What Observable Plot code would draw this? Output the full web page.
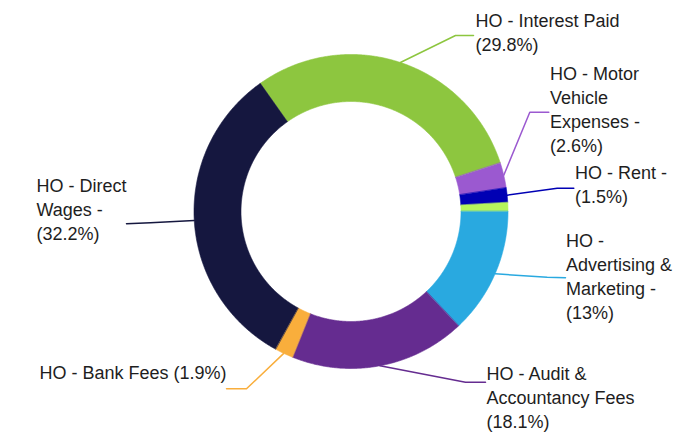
<!DOCTYPE html>
<html><head><meta charset="utf-8">
<script src="https://cdn.jsdelivr.net/npm/d3@7"></script>
<script src="https://cdn.jsdelivr.net/npm/@observablehq/plot@0.6"></script>
<style>body{margin:0;background:#fff;}#chart svg{display:block;background:#fff;}</style>
</head><body><div id="chart"></div>
<script>
// ---- data (clockwise order) ----
const categories = ["HO - Interest Paid","HO - Motor Vehicle Expenses","HO - Rent","HO - Other","HO - Advertising & Marketing","HO - Audit & Accountancy Fees","HO - Bank Fees","HO - Direct Wages"];
const values = [29.8, 2.6, 1.5, 0.9, 13, 18.1, 1.9, 32.2];
const colors = ["#8dc63f","#9b59d0","#0000b4","#b6f55c","#29a9e0","#652c90","#f9ae3c","#15173f"];
const labelTexts = ["HO - Interest Paid\n(29.8%)","HO - Motor\nVehicle\nExpenses -\n(2.6%)","HO - Rent -\n(1.5%)",null,"HO -\nAdvertising &\nMarketing -\n(13%)","HO - Audit &\nAccountancy Fees\n(18.1%)","HO - Bank Fees (1.9%)","HO - Direct\nWages -\n(32.2%)"];

// ---- layout ----
const W = 695, H = 432;
const cx = 350.5, cy = 211;      // ring centre (px)
const R = 157, r0 = 110;         // outer / inner radius (px)
const startAngle = -35.3;        // degrees clockwise from 12 o'clock
// leader elbows/ends and label anchors, page px
const labelLayout = [
  {elbow:[455,35],    end:[473,35],    text:[475,31.3],  anchor:"start"},
  {elbow:[529.3,111.7],end:[548.3,111.7],text:[549.5,107.5],anchor:"start"},
  {elbow:[556.7,187.7],end:[573.3,187.7],text:[574.5,183.3],anchor:"start"},
  null,
  {elbow:[546.7,276.7],end:[565,277.3], text:[565.5,274.7],anchor:"start"},
  {elbow:[465,381.7], end:[485,381.7], text:[486,396],    anchor:"start"},
  {elbow:[246,388.3], end:[226,388.3], text:[226,370.7],  anchor:"end"},
  {elbow:[150,222.3], end:[126,223.3], text:[36,207.7],   anchor:"start"}
];
const px = p => ({x: p[0] - cx, y: cy - p[1]});

const total = d3.sum(values);
let acc = 0;
const slices = categories.map((c, i) => {
  const a0 = startAngle + acc / total * 360;
  acc += values[i];
  const a1 = startAngle + acc / total * 360;
  return {category: c, value: values[i], a0, a1, mid: (a0 + a1) / 2, i};
});
const rad = a => a * Math.PI / 180;
const pt = (c, r, a) => ({category: c, x: r * Math.sin(rad(a)), y: r * Math.cos(rad(a))});

const ring = slices.flatMap(s => {
  const n = Math.max(2, Math.ceil((s.a1 - s.a0) / 0.4));
  const pts = [];
  for (let k = 0; k <= n; k++) pts.push(pt(s.category, R, s.a0 + (s.a1 - s.a0) * k / n));
  for (let k = n; k >= 0; k--) pts.push(pt(s.category, r0, s.a0 + (s.a1 - s.a0) * k / n));
  return pts;
});

const leaders = slices.filter(s => labelLayout[s.i]).flatMap(s => {
  const L = labelLayout[s.i];
  return [pt(s.category, R, s.mid), {category: s.category, ...px(L.elbow)}, {category: s.category, ...px(L.end)}];
});
const labels = slices.filter(s => labelLayout[s.i]).map(s => {
  const L = labelLayout[s.i];
  return {category: s.category, text: labelTexts[s.i], anchor: L.anchor, ...px(L.text)};
});

const textOpts = {x: "x", y: "y", text: "text", fontSize: 18, lineHeight: 1.333, lineAnchor: "middle", fill: "#1e1e1e", fontFamily: "'Liberation Sans', Arial, Helvetica, sans-serif"};

const chart = Plot.plot({
  width: W, height: H, margin: 0,
  x: {domain: [-cx, W - cx], axis: null},
  y: {domain: [cy - H, cy], axis: null},
  color: {domain: categories, range: colors},
  style: {background: "#fff"},
  marks: [
    Plot.line(ring, {x: "x", y: "y", z: "category", fill: "category", stroke: "category", strokeWidth: 0.6, curve: "linear-closed"}),
    Plot.line(leaders, {x: "x", y: "y", z: "category", stroke: "category", strokeWidth: 1.5}),
    Plot.text(labels.filter(d => d.anchor === "start"), {...textOpts, textAnchor: "start"}),
    Plot.text(labels.filter(d => d.anchor === "end"), {...textOpts, textAnchor: "end"})
  ]
});
document.getElementById("chart").append(chart);
</script>
</body></html>
